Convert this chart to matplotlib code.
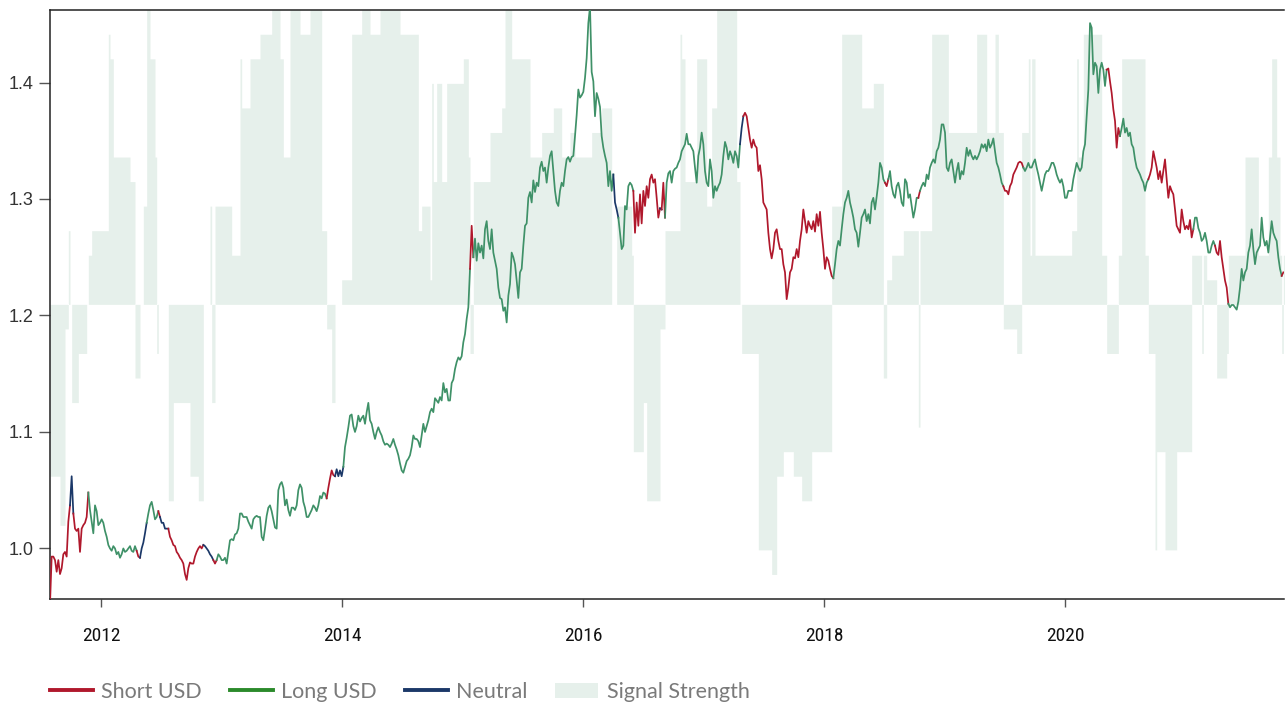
import numpy as np
import pandas as pd
import matplotlib
matplotlib.use("Agg")
import matplotlib.pyplot as plt
from matplotlib.lines import Line2D
from matplotlib.patches import Patch
from matplotlib import font_manager

# ---------------- data ----------------
start_date = "2011-07-30"
end_date = "2021-10-24"

price = [
    # mid 2011 - early 2013
    0.952, 0.993, 0.993, 0.990, 0.980, 0.990, 0.978, 0.983, 0.995, 0.997,
    0.993, 1.023, 1.037, 1.062, 1.030, 1.017, 1.015, 1.017, 0.997, 1.017,
    1.020, 1.022, 1.027, 1.048, 1.033, 1.023, 1.013, 1.037, 1.032, 1.020,
    1.022, 1.025, 1.022, 1.015, 1.010, 1.003, 1.000, 0.998, 1.002, 1.000,
    0.995, 0.997, 0.992, 0.995, 1.000, 0.997, 0.998, 1.000, 1.002, 0.998,
    0.997, 1.002, 0.998, 0.993, 0.992, 1.000, 1.005, 1.013, 1.022, 1.030,
    1.037, 1.040, 1.033, 1.025, 1.027, 1.032, 1.027, 1.022, 1.022, 1.017,
    1.017, 1.017, 1.010, 1.007, 1.003, 1.002, 0.997, 0.995, 0.992, 0.990,
    0.987, 0.978, 0.973, 0.983, 0.988, 0.987, 0.987, 0.993, 0.997, 1.000,
    1.002, 1.000, 1.003, 1.002, 1.000, 0.998, 0.995, 0.993, 0.990, 0.987,
    0.990, 0.995, 0.993, 0.990, 0.990, 0.992, 0.987, 0.997, 1.007, 1.008,
    1.007, 1.012, 1.013, 1.017, 1.030, 1.030, 1.027, 1.027, 1.027, 1.023,
    1.020, 1.017, 1.025, 1.027, 1.028, 1.027, 1.027,
    # 2013 - early 2015
    1.010, 1.007, 1.017, 1.028, 1.035, 1.037, 1.032, 1.025, 1.018, 1.017,
    1.050, 1.055, 1.057, 1.052, 1.037, 1.042, 1.033, 1.028, 1.035, 1.035,
    1.033, 1.037, 1.050, 1.055, 1.052, 1.040, 1.035, 1.027, 1.027, 1.030,
    1.033, 1.037, 1.035, 1.032, 1.037, 1.045, 1.043, 1.048, 1.047, 1.043,
    1.052, 1.060, 1.067, 1.063, 1.062, 1.068, 1.062, 1.067, 1.062, 1.070,
    1.087, 1.095, 1.104, 1.114, 1.115, 1.105, 1.100, 1.105, 1.114, 1.109,
    1.112, 1.114, 1.107, 1.117, 1.125, 1.110, 1.107, 1.100, 1.094, 1.100,
    1.104, 1.100, 1.097, 1.092, 1.089, 1.090, 1.089, 1.087, 1.090, 1.094,
    1.089, 1.085, 1.080, 1.073, 1.067, 1.065, 1.070, 1.075, 1.077, 1.080,
    1.087, 1.097, 1.094, 1.094, 1.092, 1.087, 1.097, 1.107, 1.100, 1.105,
    1.110, 1.117, 1.120, 1.117, 1.129, 1.127, 1.125, 1.130, 1.127, 1.142,
    1.134, 1.137, 1.127, 1.127, 1.142, 1.145, 1.154, 1.160, 1.164, 1.162,
    1.165, 1.177, 1.184, 1.197, 1.207, 1.240,
    # 2015 - late 2016
    1.277, 1.250, 1.266, 1.247, 1.262, 1.254, 1.260, 1.249, 1.274, 1.281,
    1.264, 1.257, 1.274, 1.254, 1.247, 1.240, 1.224, 1.215, 1.214, 1.204,
    1.207, 1.194, 1.217, 1.227, 1.254, 1.250, 1.244, 1.230, 1.215, 1.237,
    1.240, 1.260, 1.277, 1.279, 1.301, 1.306, 1.297, 1.316, 1.306, 1.314,
    1.311, 1.327, 1.332, 1.324, 1.327, 1.314, 1.327, 1.337, 1.341, 1.324,
    1.307, 1.297, 1.294, 1.307, 1.314, 1.311, 1.324, 1.334, 1.336, 1.332,
    1.336, 1.337, 1.354, 1.372, 1.394, 1.387, 1.389, 1.392, 1.404, 1.421,
    1.451, 1.465, 1.409, 1.401, 1.371, 1.391, 1.386, 1.379, 1.354, 1.344,
    1.337, 1.331, 1.311, 1.324, 1.307, 1.321, 1.297, 1.291, 1.284, 1.271,
    1.257, 1.260, 1.294, 1.291, 1.311, 1.314, 1.312, 1.307, 1.271, 1.297,
    1.277, 1.304, 1.279, 1.307, 1.294, 1.311, 1.301, 1.317, 1.321, 1.314,
    1.317, 1.301, 1.284, 1.292, 1.291, 1.314, 1.284, 1.314, 1.322, 1.324,
    1.314, 1.324, 1.326, 1.327, 1.331, 1.334,
    # late 2016 - mid 2018
    1.341, 1.344, 1.347, 1.356, 1.347, 1.347, 1.344, 1.341, 1.327, 1.314,
    1.337, 1.344, 1.357, 1.347, 1.324, 1.314, 1.311, 1.334, 1.324, 1.301,
    1.311, 1.307, 1.311, 1.314, 1.321, 1.337, 1.349, 1.344, 1.334, 1.341,
    1.337, 1.331, 1.341, 1.337, 1.327, 1.347, 1.361, 1.371, 1.374, 1.371,
    1.361, 1.351, 1.344, 1.351, 1.346, 1.344, 1.324, 1.329, 1.317, 1.297,
    1.294, 1.291, 1.271, 1.257, 1.249, 1.257, 1.271, 1.274, 1.264, 1.257,
    1.257, 1.244, 1.237, 1.214, 1.224, 1.237, 1.240, 1.250, 1.249, 1.257,
    1.250, 1.264, 1.274, 1.291, 1.281, 1.271, 1.281, 1.277, 1.274, 1.281,
    1.272, 1.287, 1.277, 1.289, 1.271, 1.257, 1.240, 1.250, 1.247, 1.240,
    1.234, 1.232, 1.244, 1.257, 1.264, 1.260, 1.274, 1.287, 1.297, 1.301,
    1.307, 1.297, 1.291, 1.284, 1.274, 1.271, 1.259, 1.271, 1.284, 1.287,
    1.291, 1.281, 1.287, 1.279, 1.297, 1.301, 1.291, 1.302, 1.314, 1.331,
    1.327, 1.317, 1.314, 1.311, 1.317, 1.324,
    # mid 2018 - early 2020
    1.311, 1.304, 1.301, 1.311, 1.314, 1.307, 1.297, 1.294, 1.317, 1.314,
    1.301, 1.304, 1.294, 1.284, 1.291, 1.301, 1.301, 1.307, 1.311, 1.314,
    1.311, 1.321, 1.317, 1.327, 1.331, 1.334, 1.331, 1.341, 1.344, 1.351,
    1.364, 1.364, 1.357, 1.327, 1.324, 1.331, 1.334, 1.324, 1.314, 1.324,
    1.331, 1.317, 1.324, 1.321, 1.331, 1.344, 1.337, 1.342, 1.337, 1.334,
    1.337, 1.334, 1.337, 1.341, 1.347, 1.344, 1.347, 1.341, 1.351, 1.344,
    1.347, 1.352, 1.341, 1.331, 1.327, 1.321, 1.314, 1.311, 1.307, 1.307,
    1.304, 1.311, 1.314, 1.321, 1.324, 1.327, 1.331, 1.332, 1.331, 1.327,
    1.324, 1.327, 1.331, 1.327, 1.327, 1.331, 1.334, 1.327, 1.321, 1.314,
    1.307, 1.314, 1.321, 1.324, 1.324, 1.327, 1.331, 1.331, 1.327, 1.321,
    1.317, 1.314, 1.317, 1.311, 1.301, 1.301, 1.307, 1.307, 1.307, 1.317,
    1.324, 1.331, 1.327, 1.324, 1.327, 1.341, 1.347, 1.371, 1.394, 1.451,
    1.447, 1.407, 1.417, 1.414, 1.391, 1.411,
    # 2020 - late 2021
    1.417, 1.411, 1.397, 1.411, 1.412, 1.401, 1.391, 1.377, 1.367, 1.344,
    1.361, 1.354, 1.361, 1.369, 1.357, 1.361, 1.354, 1.357, 1.347, 1.344,
    1.334, 1.327, 1.324, 1.321, 1.317, 1.314, 1.307, 1.314, 1.317, 1.321,
    1.327, 1.341, 1.334, 1.327, 1.317, 1.324, 1.314, 1.324, 1.334, 1.317,
    1.301, 1.311, 1.307, 1.304, 1.291, 1.277, 1.274, 1.271, 1.291, 1.281,
    1.274, 1.277, 1.274, 1.282, 1.267, 1.274, 1.284, 1.284, 1.275, 1.271,
    1.264, 1.266, 1.271, 1.264, 1.254, 1.254, 1.260, 1.264, 1.260, 1.254,
    1.252, 1.264, 1.250, 1.240, 1.230, 1.224, 1.210, 1.207, 1.209, 1.209,
    1.207, 1.205, 1.212, 1.224, 1.240, 1.230, 1.237, 1.240, 1.254, 1.260,
    1.274, 1.257, 1.244, 1.254, 1.257, 1.260, 1.284, 1.267, 1.260, 1.264,
    1.254, 1.267, 1.281, 1.271, 1.267, 1.264, 1.250, 1.240, 1.234, 1.237,
]

# position state (S = short USD, L = long USD, N = neutral) as run lengths
state_codes = ["S", "N", "S", "L", "S", "N", "L", "S", "N", "S", "N", "S", "L",
               "S", "N", "L", "S", "L", "N", "L", "S", "N", "S", "L", "N", "S",
               "L", "S", "L", "S", "L", "S", "L", "S", "L", "S", "L", "S", "L", "S"]
state_runs = [12, 2, 9, 29, 2, 4, 7, 1, 5, 21, 6, 2, 66,
              5, 5, 76, 2, 84, 3, 9, 16, 1, 2, 45, 2, 54,
              31, 2, 18, 1, 50, 12, 50, 8, 17, 27, 13, 8, 32, 2]

# signal strength, in twelfths (-12 .. 12), as run lengths
signal_levels = [-7, -9, -1, 3, 0, -4, -2, 0, 2, 3, 11, 10, 6, 5, -3, 0, 4, 12, 10, 6,
                 -2, 0, -8, -4, -7, -8, 0, 4, -4, 4, 2, 10, 8, 10, 11, 12, 10, 6, 12, 11,
                 12, 3, -1, -4, 0, 1, 11, 12, 11, 12, 11, 3, 4, 1, 9, 5, 9, 5, 9, 10,
                 6, -2, 5, 7, 8, 12, 10, 6, 7, 8, 6, 7, 6, 7, 8, 0, 4, 2, -6, -4,
                 -8, -1, 3, 11, 10, 5, 10, 4, 8, 12, 5, 0, -2, -10, -11, -7, -6, -7, -8, -6,
                 4, 11, 8, 9, -3, 1, 2, 3, -5, 3, 11, 7, 11, 7, 11, 7, -1, -2, 7, 10,
                 2, 10, 2, 3, 10, 6, 11, 2, -2, 2, 10, 2, -2, -10, -6, -10, -6, 2, -2, 2,
                 1, -3, -2, 2, 6, 2, 6, 10, 6, 2, -2, 2]
signal_runs = [6, 3, 2, 1, 1, 4, 5, 1, 2, 10, 1, 2, 10, 3, 3, 2, 2, 2, 3, 1,
               1, 6, 3, 10, 5, 3, 4, 1, 2, 10, 5, 1, 5, 6, 7, 5, 2, 4, 6, 6,
               7, 3, 3, 2, 4, 6, 6, 5, 6, 12, 11, 2, 5, 1, 1, 2, 3, 3, 10, 3,
               1, 2, 10, 7, 2, 4, 11, 7, 7, 5, 5, 3, 10, 6, 6, 3, 9, 1, 6, 2,
               8, 3, 9, 1, 2, 7, 6, 3, 3, 12, 2, 1, 10, 8, 3, 4, 6, 5, 6, 12,
               6, 12, 7, 6, 2, 3, 7, 9, 1, 7, 10, 17, 6, 5, 2, 3, 8, 3, 4, 1,
               1, 2, 22, 3, 1, 3, 11, 3, 7, 2, 14, 2, 4, 1, 5, 7, 9, 6, 1, 2,
               6, 6, 1, 10, 8, 6, 2, 3, 2, 1, 1, 1]

year_ticks = [2012, 2014, 2016, 2018, 2020]
y_ticks = [1.0, 1.1, 1.2, 1.3, 1.4]
legend_labels = ["Short USD", "Long USD", "Neutral", "Signal Strength"]

# ---------------- styling ----------------
C_SHORT = "#b0182c"
C_LONG = "#3f9168"
C_NEUTRAL = "#1b3868"
C_LONG_LEG = "#2b8a2b"
C_FILL = "#e6f0eb"
state_color = {"S": C_SHORT, "L": C_LONG, "N": C_NEUTRAL}

def pick_font(cands):
    names = {f.name for f in font_manager.fontManager.ttflist}
    for c in cands:
        if c in names:
            return c
    return "DejaVu Sans"

F_TICK = pick_font(["Liberation Sans", "Arial", "DejaVu Sans"])
F_XTICK = pick_font(["Liberation Sans Narrow", "Roboto Condensed", "Liberation Sans"])
F_LEG = pick_font(["Lato", "Open Sans", "DejaVu Sans"])

price = np.array(price)
n = len(price)
dates = pd.date_range(start_date, end_date, periods=n)
step = dates[1] - dates[0]

ymin, ymax = 0.9566, 1.4625
mid = (ymin + ymax) / 2
half = (ymax - ymin) / 2

sig = np.repeat(np.array(signal_levels, dtype=float), signal_runs) / 12.0
if len(sig) < n:
    sig = np.concatenate([sig, np.full(n - len(sig), sig[-1])])
sig = sig[:n]

fig = plt.figure(figsize=(12.85, 7.04), dpi=100)
ax = fig.add_axes([50 / 1285, 105 / 704, 1234 / 1285, 589.3 / 704])

# signal strength shading (drawn around the centre of the value range)
edges = list(dates) + [dates[-1] + step]
yfill = np.concatenate([mid + sig * half, [mid + sig[-1] * half]])
ax.fill_between(edges, mid, yfill, step="post", color=C_FILL, lw=0,
                antialiased=False, zorder=1)

# price line, coloured by position state
pos = 0
for code, run in zip(state_codes, state_runs):
    a, b = pos, min(pos + run + 1, n)
    ax.plot(dates[a:b], price[a:b], color=state_color[code], lw=1.25,
            solid_joinstyle="round", zorder=3)
    pos += run

ax.set_ylim(ymin, ymax)
ax.set_xlim(dates[0], pd.Timestamp("2021-10-26"))
ax.set_yticks(y_ticks)
ax.set_yticklabels([f"{v:.1f}" for v in y_ticks], fontfamily=F_TICK,
                   fontsize=13, color="#333333")
xt = [pd.Timestamp(f"{y}-01-01") for y in year_ticks]
ax.set_xticks(xt)
ax.set_xticklabels([str(y) for y in year_ticks], fontfamily=F_XTICK,
                   fontsize=14, color="#111111")
ax.tick_params(axis="y", length=8, width=1, color="#555555", pad=4)
ax.tick_params(axis="x", length=6, width=1, color="#555555", pad=14)

for s in ["left", "bottom", "top"]:
    ax.spines[s].set_color("#222222")
    ax.spines[s].set_linewidth(1.1)
ax.spines["right"].set_visible(False)

handles = [Line2D([], [], color=C_SHORT, lw=2.8),
           Line2D([], [], color=C_LONG_LEG, lw=2.8),
           Line2D([], [], color=C_NEUTRAL, lw=2.8),
           Patch(facecolor=C_FILL, edgecolor="none")]
leg = fig.legend(handles, legend_labels, loc="center left",
                 bbox_to_anchor=(50 / 1285, 12 / 704), ncol=4, frameon=False,
                 prop={"family": F_LEG, "size": 15.5},
                 handlelength=2.0, handleheight=0.75, handletextpad=0.38,
                 columnspacing=1.3, borderpad=0, borderaxespad=0)
for t in leg.get_texts():
    t.set_color("#7a7a7a")

fig.savefig("out.png", dpi=100)
